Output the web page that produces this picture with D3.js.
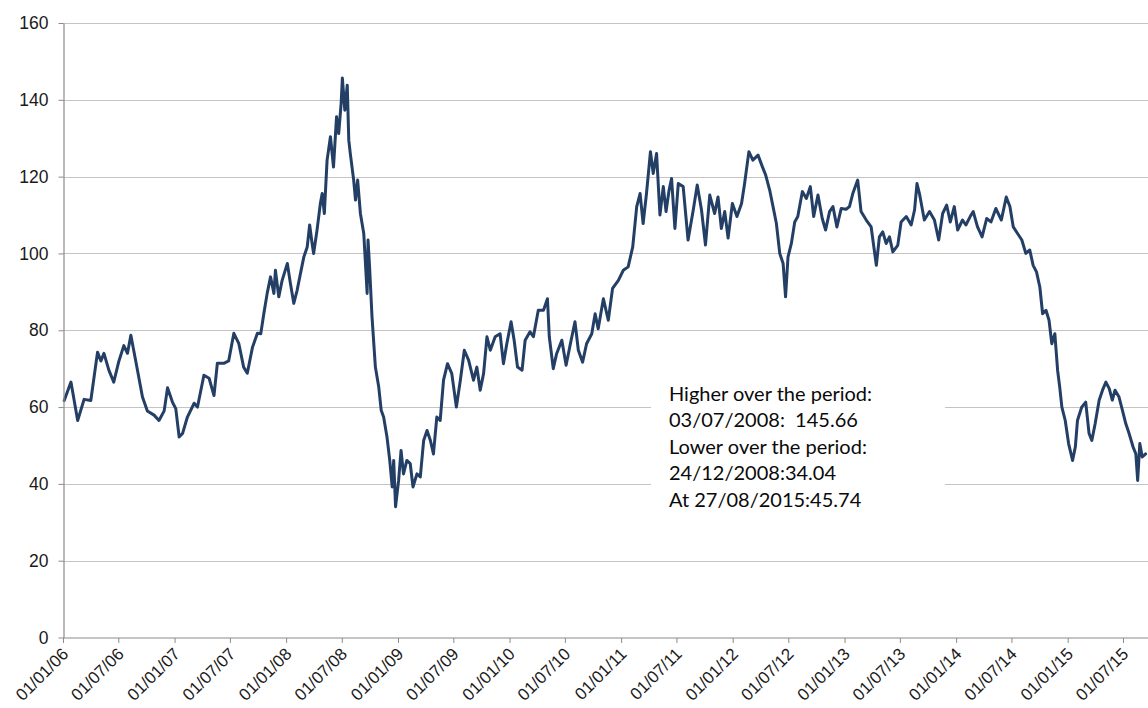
<!DOCTYPE html>
<html><head><meta charset="utf-8">
<script src="https://cdn.jsdelivr.net/npm/d3@7/dist/d3.min.js"></script>
<style>html,body{margin:0;padding:0;background:#fff}svg{display:block}</style>
</head><body>
<svg id="chart" width="1148" height="708"></svg>
<script>
const dates = [
"2006-01-05","2006-01-27","2006-02-18","2006-03-11","2006-04-02","2006-04-24","2006-05-05","2006-05-15","2006-05-31","2006-06-16",
"2006-07-03","2006-07-19","2006-07-31","2006-08-11","2006-08-27","2006-09-18","2006-10-04","2006-10-26","2006-11-11","2006-11-28",
"2006-12-09","2006-12-25","2007-01-05","2007-01-16","2007-01-27","2007-02-12","2007-03-06","2007-03-17","2007-04-07","2007-04-24",
"2007-05-10","2007-05-21","2007-06-11","2007-06-27","2007-07-14","2007-07-30","2007-08-15","2007-08-27","2007-09-13","2007-09-29",
"2007-10-10","2007-10-20","2007-10-31","2007-11-11","2007-11-22","2007-11-27","2007-12-08","2007-12-19","2008-01-05","2008-01-15",
"2008-01-26","2008-02-06","2008-02-17","2008-02-28","2008-03-10","2008-03-18","2008-03-26","2008-03-31","2008-04-11","2008-04-22",
"2008-04-28","2008-05-05","2008-05-14","2008-05-25","2008-06-04","2008-06-14","2008-06-21","2008-06-29","2008-07-03","2008-07-11",
"2008-07-19","2008-07-24","2008-07-29","2008-08-09","2008-08-15","2008-08-22","2008-08-31","2008-09-11","2008-09-16","2008-09-22",
"2008-09-25","2008-09-30","2008-10-08","2008-10-19","2008-10-30","2008-11-07","2008-11-15","2008-11-26","2008-12-05","2008-12-13",
"2008-12-18","2008-12-24","2009-01-03","2009-01-11","2009-01-19","2009-01-30","2009-02-10","2009-02-19","2009-03-04","2009-03-15",
"2009-03-26","2009-04-06","2009-04-17","2009-04-27","2009-05-08","2009-05-19","2009-05-30","2009-06-12","2009-06-26","2009-07-11",
"2009-07-24","2009-08-06","2009-08-20","2009-09-05","2009-09-16","2009-09-27","2009-10-08","2009-10-19","2009-10-30","2009-11-15",
"2009-12-01","2009-12-12","2009-12-23","2010-01-06","2010-01-16","2010-01-27","2010-02-11","2010-02-21","2010-03-09","2010-03-20",
"2010-04-05","2010-04-22","2010-05-05","2010-05-11","2010-05-24","2010-06-04","2010-06-21","2010-07-05","2010-07-18","2010-08-03",
"2010-08-14","2010-08-28","2010-09-10","2010-09-27","2010-10-08","2010-10-18","2010-11-04","2010-11-20","2010-12-04","2010-12-23",
"2011-01-08","2011-01-24","2011-02-08","2011-02-21","2011-03-04","2011-03-14","2011-03-25","2011-04-07","2011-04-16","2011-04-27",
"2011-05-08","2011-05-19","2011-05-28","2011-06-07","2011-06-15","2011-06-26","2011-07-07","2011-07-23","2011-08-08","2011-08-25",
"2011-09-07","2011-09-21","2011-10-04","2011-10-18","2011-11-03","2011-11-14","2011-11-25","2011-12-06","2011-12-17","2011-12-31",
"2012-01-15","2012-01-30","2012-02-09","2012-02-23","2012-03-07","2012-03-24","2012-04-07","2012-04-18","2012-05-01","2012-05-12",
"2012-05-23","2012-06-03","2012-06-14","2012-06-22","2012-06-30","2012-07-11","2012-07-22","2012-08-01","2012-08-16","2012-08-29",
"2012-09-11","2012-09-22","2012-10-06","2012-10-20","2012-10-31","2012-11-13","2012-11-24","2012-12-07","2012-12-21","2013-01-06",
"2013-01-17","2013-01-28","2013-02-13","2013-02-24","2013-03-13","2013-03-29","2013-04-15","2013-04-25","2013-05-06","2013-05-17",
"2013-05-28","2013-06-08","2013-06-24","2013-07-05","2013-07-22","2013-08-07","2013-08-18","2013-08-26","2013-09-03","2013-09-19",
"2013-10-06","2013-10-22","2013-11-05","2013-11-18","2013-12-01","2013-12-13","2013-12-26","2014-01-06","2014-01-22","2014-02-02",
"2014-02-16","2014-02-26","2014-03-12","2014-03-27","2014-04-11","2014-04-25","2014-05-11","2014-05-29","2014-06-14","2014-06-26",
"2014-07-07","2014-07-21","2014-08-04","2014-08-17","2014-08-30","2014-09-10","2014-09-21","2014-10-02","2014-10-11","2014-10-22",
"2014-11-01","2014-11-10","2014-11-20","2014-11-29","2014-12-06","2014-12-13","2014-12-24","2015-01-04","2015-01-17","2015-01-26",
"2015-02-02","2015-02-16","2015-03-01","2015-03-12","2015-03-21","2015-04-01","2015-04-14","2015-04-25","2015-05-06","2015-05-17",
"2015-05-27","2015-06-05","2015-06-18","2015-06-29","2015-07-10","2015-07-21","2015-08-03","2015-08-12","2015-08-18","2015-08-25",
"2015-09-02","2015-09-13"
];
const values = [
61.7,66.5,56.5,62,61.7,74.3,72,74,69.6,66.5,
72,76,74,78.7,72,62.6,59,57.9,56.5,59,
65,61.3,59.6,52.2,53.1,57.4,61,60,68.3,67.5,
63,71.4,71.4,72,79.2,76.6,70.4,68.8,75.6,79.2,
79.1,84.3,89.6,93.9,89.6,95.6,88.7,93,97.4,92.2,
87,90.4,94.8,99.1,101.7,107.4,102.6,100,106,113,
115.6,110.4,124.3,130.4,122.5,135.6,131.2,139.1,145.66,137.3,
143.8,129.5,126,119.1,113.9,119.1,110.4,105.2,98.2,89.6,
103.5,96.5,83.5,70.4,65.2,59.2,57.4,52.2,46.1,39.2,
46.1,34.04,40.9,48.7,42.6,46.1,45.3,39.2,42.6,41.8,
51.3,53.9,51.3,47.8,57.4,56.5,67,71.3,68.7,60,
67,74.8,72.2,67,70.4,64.4,68.7,78.3,74.8,78.3,
79.1,71.3,76.5,82.2,77.4,70.4,69.6,77.4,79.6,78.3,
85.2,85.2,88.2,78.3,70,73.9,77.4,70.9,76.1,82.2,
74.8,71.7,76.5,79.1,84.3,80.4,88.2,82.6,90.9,93,
95.6,96.5,101.7,112.2,115.6,107.8,115.6,126.5,120.8,126,
110,117.4,110.9,116.5,119.5,106.5,118.2,117.4,103.5,111.3,
117.8,111.3,102.2,115.2,110.4,114.7,106.5,110.9,104,113,
109.6,113,118.2,126.5,124.3,125.6,122.6,120.4,116.5,112.2,
107.8,100,97.4,88.7,99.1,102.6,108.2,109.6,116.1,114.3,
117.4,109.6,115.2,109.1,106.1,110.9,112.2,106.9,111.7,111.5,
112.2,115.6,119.1,110.9,108.7,106.9,96.9,104.3,105.6,102.6,
104.3,100.4,102.1,108.2,109.6,107.4,111.3,118.2,115.6,108.7,
110.9,108.7,103.5,110.4,112.6,108.2,112.2,106.1,108.7,107.4,
109.6,110.9,106.9,104.3,109.1,108.2,111.7,108.7,114.7,112.2,
106.9,105.2,103.5,100,100.9,96.9,95.2,91.2,84.3,85.2,
82.6,76.5,79.1,69.6,65.2,60,56.5,50.5,46.1,49.6,
56.5,60,61.3,53.1,51.3,55.7,61.8,64.4,66.5,64.8,
61.8,64.4,62.6,59.2,55.7,53.1,49.6,47.8,40.9,50.5,
47,47.8
];
const yTicks = [0,20,40,60,80,100,120,140,160];
const xTickDates = ["2006-01-01","2006-07-01","2007-01-01","2007-07-01","2008-01-01","2008-07-01","2009-01-01","2009-07-01",
"2010-01-01","2010-07-01","2011-01-01","2011-07-01","2012-01-01","2012-07-01","2013-01-01","2013-07-01","2014-01-01",
"2014-07-01","2015-01-01","2015-07-01"];
const noteLines = ["Higher over the period:","03/07/2008:\u00a0 145.66","Lower over the period:","24/12/2008:34.04","At 27/08/2015:45.74"];

(function(){
const parse = d3.timeParse("%Y-%m-%d");
const data = dates.map((d,i)=>({date:parse(d), value:values[i]}));
const svg = d3.select("#chart");
const W = 1148;
const plotLeft = 63, plotBottom = 637.5, plotTop = 23;

const x = d3.scaleTime().domain([parse("2006-01-01"), parse("2015-07-01")]).range([plotLeft, 1123]);
const y = d3.scaleLinear().domain([0,160]).range([plotBottom, plotTop]);

svg.append("g").selectAll("line").data(yTicks.filter(v=>v>0)).join("line")
  .attr("x1", plotLeft).attr("x2", W)
  .attr("y1", d=>Math.round(y(d))+0.5).attr("y2", d=>Math.round(y(d))+0.5)
  .attr("stroke", "#c4c4c4").attr("stroke-width", 1.2);

const line = d3.line().x(d=>x(d.date)).y(d=>y(d.value));
svg.append("path").datum(data).attr("d", line)
  .attr("fill","none").attr("stroke","#243f66").attr("stroke-width",3)
  .attr("stroke-linejoin","round").attr("stroke-linecap","round");

svg.append("rect").attr("x",651).attr("y",372).attr("width",294).attr("height",148).attr("fill","#fff");
svg.append("g").selectAll("text").data(noteLines).join("text")
  .attr("x",669).attr("y",(d,i)=>400.5+i*26.6)
  .attr("font-family","Lato, 'Open Sans', sans-serif").attr("font-size","20px").attr("fill","#0a0a0a")
  .text(d=>d);

const yAxis = svg.append("g").attr("transform",`translate(${plotLeft+0.5},0)`)
  .call(d3.axisLeft(y).tickValues(yTicks).tickSize(5).tickPadding(10).tickSizeOuter(0));
yAxis.select(".domain").attr("stroke","#8c8c8c").attr("stroke-width",1.2);
yAxis.selectAll(".tick line").attr("stroke","#8c8c8c");
yAxis.selectAll("text").attr("font-family","'Liberation Sans', Arial, sans-serif").attr("font-size","17.5px").attr("fill","#1a1a1a");

const xAxis = svg.append("g").attr("transform",`translate(0,${plotBottom+0.5})`)
  .call(d3.axisBottom(x).tickValues(xTickDates.map(parse)).tickSize(5).tickSizeOuter(0).tickFormat(d3.timeFormat("%d/%m/%y")));
xAxis.select(".domain").attr("d", `M${plotLeft},0H${W}`).attr("stroke","#8c8c8c").attr("stroke-width",1.2);
xAxis.selectAll(".tick line").attr("stroke","#8c8c8c");
xAxis.selectAll("text")
  .attr("x",0).attr("y",0).attr("dy",0)
  .attr("transform","translate(6,17) rotate(-45)")
  .style("text-anchor","end")
  .attr("font-family","'Liberation Sans', Arial, sans-serif").attr("font-size","17px").attr("fill","#1a1a1a");
})();
</script>
</body></html>
